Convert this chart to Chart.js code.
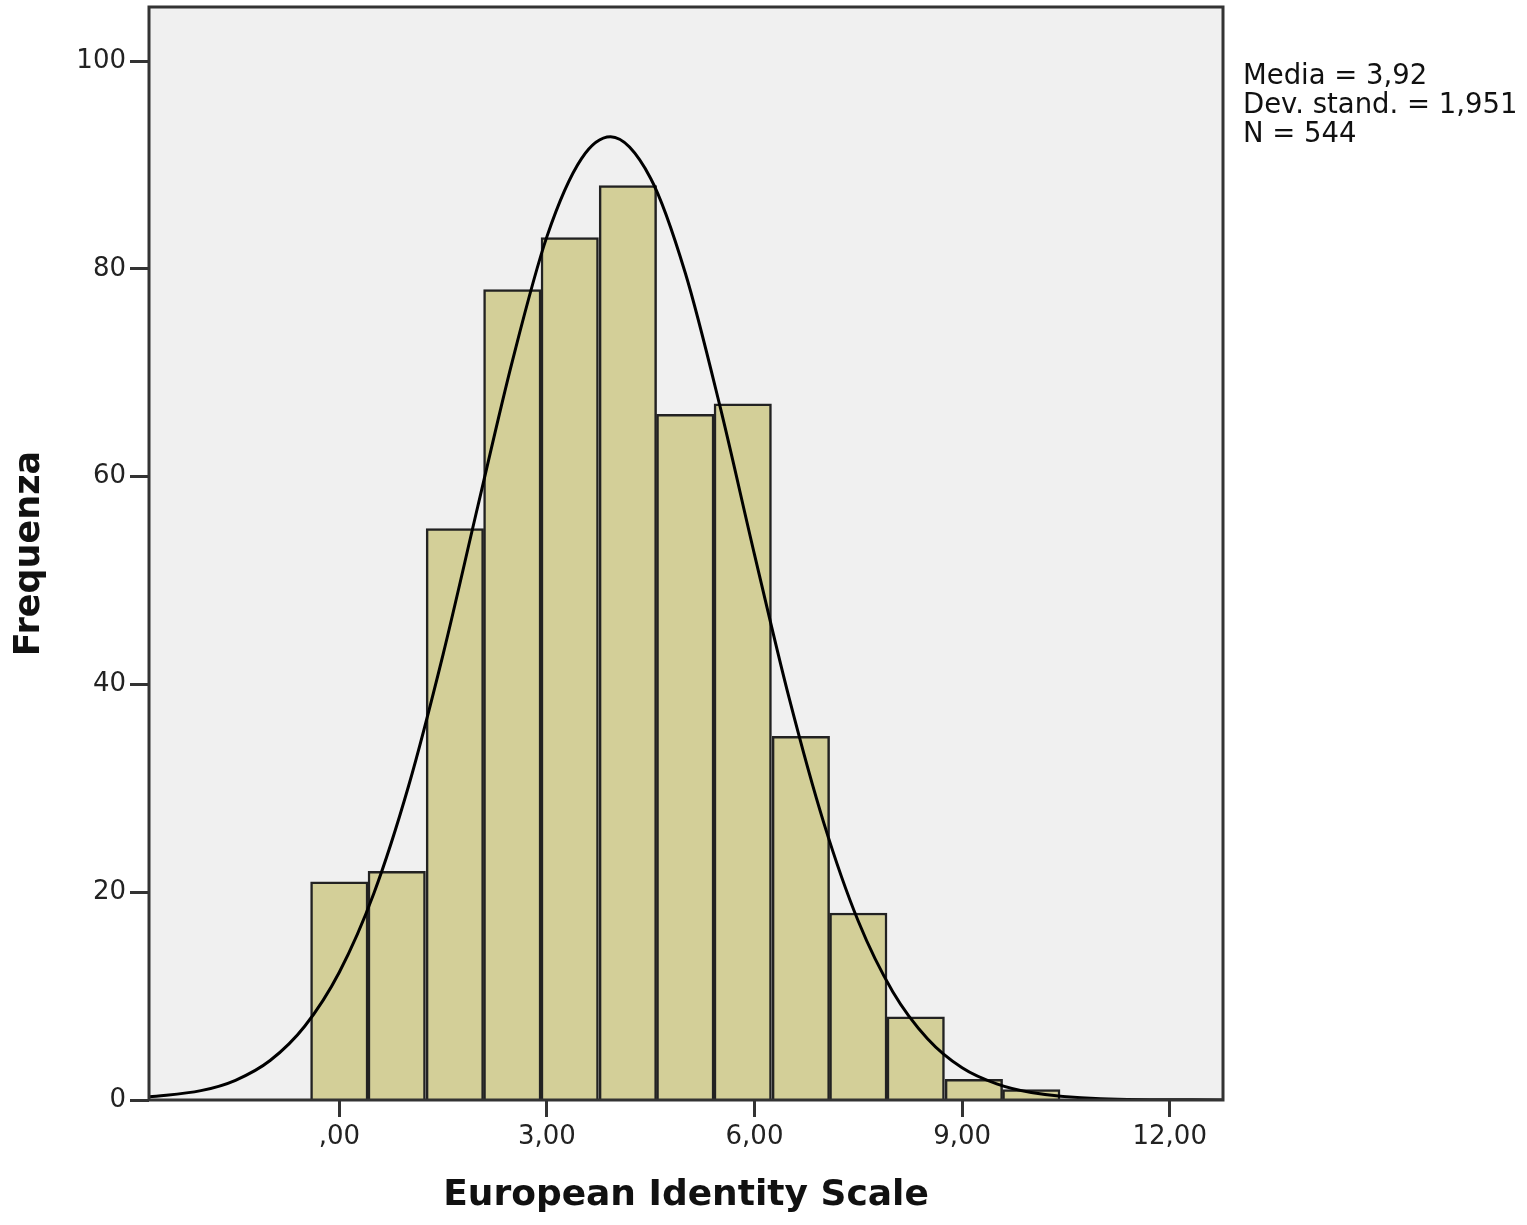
<!DOCTYPE html>
<html>
<head>
<meta charset="utf-8">
<script src="https://cdn.jsdelivr.net/npm/chart.js@4/dist/chart.umd.min.js"></script>
<style>
  body { margin: 0; background: #fff; }
  #wrap { position: relative; width: 1527px; height: 1225px; }
  #stats {
    position: absolute; left: 1243px; top: 60px;
    font-family: "DejaVu Sans", sans-serif; font-size: 27.5px; line-height: 29px;
    color: #111; white-space: pre;
  }
</style>
</head>
<body>
<div id="wrap">
  <canvas id="hist" width="1527" height="1225"></canvas>
  <div id="stats">Media = 3,92
Dev. stand. = 1,951
N = 544</div>
</div>
<script>
// histogram bins (bin centres) and counts
const binCentres = [0, 0.83, 1.67, 2.5, 3.33, 4.17, 5, 5.83, 6.67, 7.5, 8.33, 9.17, 10];
const counts = [21, 22, 55, 78, 83, 88, 66, 67, 35, 18, 8, 2, 1];

// normal curve
const curveX = [-2.75, -2, -1.5, -1, -0.5, 0, 0.5, 1, 1.5, 2, 2.5, 3, 3.5, 3.92, 4.5, 5, 5.5, 6, 6.5, 7, 7.5, 8, 8.5, 9, 9.5, 10, 11, 12.77];
const curveY = [0.3, 0.9, 1.9, 3.8, 7.1, 12.3, 19.9, 30.2, 42.9, 57.1, 71.1, 83.1, 90.6, 92.7, 88.7, 79.6, 66.8, 52.5, 38.7, 26.7, 17.2, 10.4, 5.9, 3.1, 1.55, 0.72, 0.13, 0];

const xTicks = [0, 3, 6, 9, 12];
const xTickLabels = [',00', '3,00', '6,00', '9,00', '12,00'];
const yTicks = [0, 20, 40, 60, 80, 100];

const frame = {
  id: 'frame',
  beforeDatasetsDraw(chart) {
    const a = chart.chartArea, c = chart.ctx;
    c.save();
    c.fillStyle = '#f0f0f0';
    c.fillRect(a.left, a.top, a.right - a.left, a.bottom - a.top);
    c.restore();
  },
  afterDraw(chart) {
    const a = chart.chartArea, c = chart.ctx;
    c.save();
    c.strokeStyle = '#333';
    c.lineWidth = 3;
    c.strokeRect(a.left, a.top, a.right - a.left, a.bottom - a.top);
    c.restore();
  }
};

const tickFont = { family: 'DejaVu Sans', size: 26 };
const titleFont = { family: 'DejaVu Sans', size: 36, weight: 'bold' };

new Chart(document.getElementById('hist'), {
  type: 'bar',
  data: {
    datasets: [{
      type: 'line',
      data: curveX.map((x, i) => ({ x: x, y: curveY[i] })),
      borderColor: '#000',
      borderWidth: 3,
      pointRadius: 0,
      cubicInterpolationMode: 'monotone',
      order: 0
    }, {
      data: binCentres.map((x, i) => ({ x: x, y: counts[i] })),
      backgroundColor: '#d3cf98',
      borderColor: '#222',
      borderWidth: 2.5,
      barPercentage: 1,
      categoryPercentage: 1,
      order: 1
    }]
  },
  options: {
    responsive: false,
    animation: false,
    layout: { padding: { left: 0, top: 7, right: 304, bottom: 0 } },
    plugins: { legend: { display: false }, tooltip: { enabled: false } },
    scales: {
      x: {
        type: 'linear',
        min: -2.75, max: 12.77,
        offset: false,
        afterFit: s => { s.height = 125; s.paddingLeft = 0; s.paddingRight = 0; },
        afterBuildTicks: s => { s.ticks = xTicks.map(v => ({ value: v })); },
        ticks: {
          font: tickFont, color: '#222', padding: 5, maxRotation: 0,
          callback: v => xTickLabels[xTicks.indexOf(v)]
        },
        grid: { offset: false, drawOnChartArea: false, tickLength: 17, tickWidth: 3, tickColor: '#333' },
        border: { display: false },
        title: { display: true, text: 'European Identity Scale', font: titleFont, color: '#111', padding: { top: 0, bottom: 8 } }
      },
      y: {
        min: 0, max: 105.2,
        afterFit: s => { s.width = 149; s.paddingTop = 0; s.paddingBottom = 0; },
        afterBuildTicks: s => { s.ticks = yTicks.map(v => ({ value: v })); },
        ticks: { font: tickFont, color: '#222', padding: 4 },
        grid: { drawOnChartArea: false, tickLength: 19, tickWidth: 3, tickColor: '#333' },
        border: { display: false },
        title: { display: true, text: 'Frequenza', font: { family: 'DejaVu Sans', size: 35, weight: 'bold' }, color: '#111', padding: { top: 9, bottom: 0 } }
      }
    }
  },
  plugins: [frame]
});
</script>
</body>
</html>
